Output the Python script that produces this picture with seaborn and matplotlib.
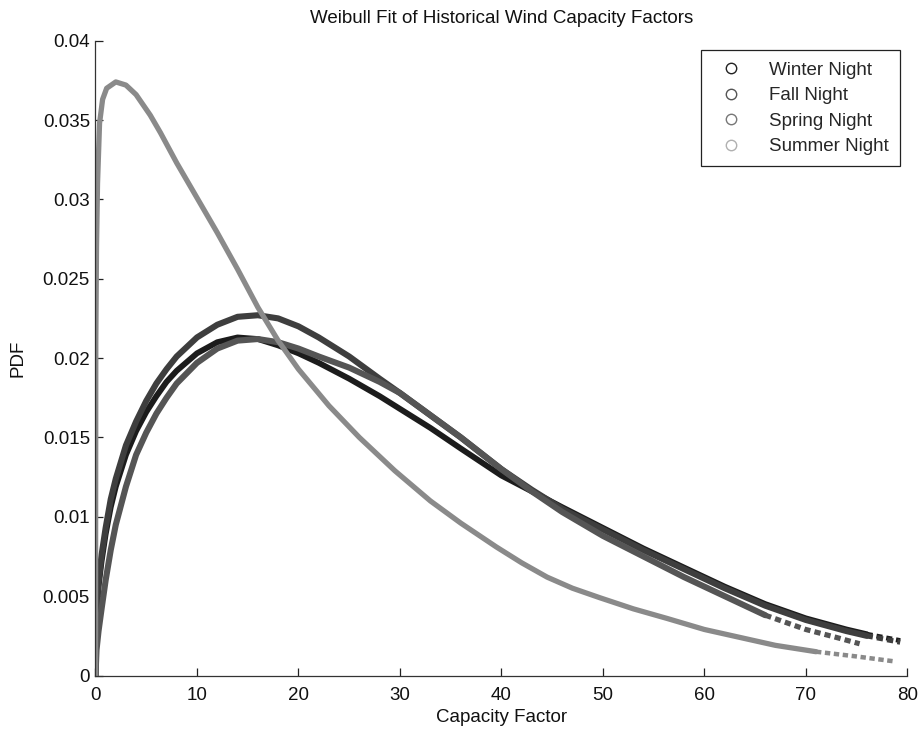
import matplotlib
matplotlib.use("Agg")
import numpy as np
import pandas as pd
import seaborn as sns
import matplotlib.pyplot as plt
from matplotlib.lines import Line2D
from matplotlib.ticker import FuncFormatter

# ---------------- data ----------------
series_names = ["Winter Night", "Fall Night", "Spring Night", "Summer Night"]

winter_x = [0, 0.1, 0.3, 0.6, 1, 1.5, 2, 3, 4, 5, 6, 7, 8, 10, 12, 14, 16, 18, 20, 22,
            25, 28, 30, 33, 36, 40, 43, 46, 50, 54, 58, 62, 66, 70, 74, 76, 79.3]
winter_y = [0, 0.0039, 0.0056, 0.0072, 0.0089, 0.0106, 0.0119, 0.0139, 0.0154, 0.0166,
            0.0176, 0.0185, 0.0192, 0.0203, 0.0210, 0.0213, 0.0212, 0.0208, 0.0203, 0.0197,
            0.0187, 0.0176, 0.0168, 0.0156, 0.0143, 0.0126, 0.0116, 0.0106, 0.0093, 0.0080,
            0.0068, 0.0056, 0.0045, 0.0036, 0.0029, 0.0026, 0.0022]

fall_x = [0, 0.1, 0.3, 0.6, 1, 1.5, 2, 3, 4, 5, 6, 7, 8, 10, 12, 14, 16, 18, 20, 22,
          25, 28, 30, 33, 36, 40, 43, 46, 50, 54, 58, 62, 66, 70, 74, 76, 79.3]
fall_y = [0, 0.0041, 0.0059, 0.0076, 0.0093, 0.0111, 0.0124, 0.0145, 0.0160, 0.0173,
          0.0184, 0.0193, 0.0201, 0.0213, 0.0221, 0.0226, 0.0227, 0.0225, 0.0220, 0.0213,
          0.0201, 0.0187, 0.0178, 0.0164, 0.0150, 0.0130, 0.0117, 0.0105, 0.0092, 0.0079,
          0.0067, 0.0055, 0.0044, 0.0035, 0.0028, 0.0025, 0.0021]

spring_x = [0, 0.1, 0.3, 0.6, 1, 1.5, 2, 3, 4, 5, 6, 7, 8, 10, 12, 14, 16, 18, 20, 22,
            25, 28, 30, 33, 36, 40, 43, 46, 50, 54, 58, 62, 66, 70, 73, 75.3]
spring_y = [0, 0.0016, 0.0028, 0.0042, 0.0060, 0.0079, 0.0095, 0.0119, 0.0139, 0.0153,
            0.0165, 0.0175, 0.0184, 0.0197, 0.0206, 0.0211, 0.0212, 0.0210, 0.0206, 0.0201,
            0.0194, 0.0185, 0.0178, 0.0164, 0.0150, 0.0130, 0.0116, 0.0103, 0.0088, 0.0075,
            0.0062, 0.0050, 0.0038, 0.0029, 0.0024, 0.0020]

summer_x = [0, 0.03, 0.1, 0.2, 0.4, 0.7, 1.1, 2, 3, 4, 5.4, 6.4, 8, 10, 12, 14, 16, 18,
            20, 23, 26, 29.5, 33, 36, 39.5, 42, 44.5, 47, 49.7, 53, 56.3, 60, 62.8, 67,
            71, 75, 78.6]
summer_y = [0, 0.021, 0.027, 0.031, 0.0348, 0.0363, 0.0370, 0.0374, 0.0372, 0.0366,
            0.0353, 0.0342, 0.0323, 0.0301, 0.0279, 0.0256, 0.0232, 0.0211, 0.0193, 0.0170,
            0.0150, 0.0129, 0.0110, 0.0096, 0.0081, 0.0071, 0.0062, 0.0055, 0.0049, 0.0042,
            0.0036, 0.0029, 0.0025, 0.0019, 0.0015, 0.0012, 0.0009]

x_ticks = [0, 10, 20, 30, 40, 50, 60, 70, 80]
y_ticks = [0, 0.005, 0.01, 0.015, 0.02, 0.025, 0.03, 0.035, 0.04]

# ---------------- style ----------------
sns.set_theme(style="white")
plt.rcParams['font.family'] = ['Liberation Sans', 'DejaVu Sans']

line_colors = {"Winter Night": "#1c1c1c", "Fall Night": "#3e3e3e",
               "Spring Night": "#555555", "Summer Night": "#8a8a8a"}
legend_colors = {"Winter Night": "#222222", "Fall Night": "#555555",
                 "Spring Night": "#777777", "Summer Night": "#b0b0b0"}
line_widths = {"Winter Night": 4.2, "Fall Night": 4.4, "Spring Night": 4.4, "Summer Night": 3.8}
tail_start = {"Winter Night": 76, "Fall Night": 76, "Spring Night": 66, "Summer Night": 71}

data = {
    "Winter Night": (winter_x, winter_y),
    "Fall Night": (fall_x, fall_y),
    "Spring Night": (spring_x, spring_y),
    "Summer Night": (summer_x, summer_y),
}

fig = plt.figure(figsize=(9.2, 7.34), dpi=100)
ax = fig.add_axes([0.1038, 0.0797, 0.8824, 0.8649])

for name in series_names:
    xs, ys = data[name]
    df = pd.DataFrame({"x": xs, "y": ys})
    solid = df[df["x"] <= tail_start[name]]
    tail = df[df["x"] >= tail_start[name]]
    sns.lineplot(data=solid, x="x", y="y", ax=ax, color=line_colors[name],
                 linewidth=line_widths[name], estimator=None, sort=False,
                 solid_capstyle="round", solid_joinstyle="round")
    sns.lineplot(data=tail, x="x", y="y", ax=ax, color=line_colors[name],
                 linewidth=line_widths[name] * 0.85, estimator=None, sort=False,
                 linestyle=(0, (1.2, 0.8)))

ax.set_xlim(0, 80)
ax.set_ylim(0, 0.04)
ax.set_xticks(x_ticks)
ax.set_yticks(y_ticks)
ax.yaxis.set_major_formatter(FuncFormatter(lambda v, p: "%g" % v))
ax.xaxis.set_major_formatter(FuncFormatter(lambda v, p: "%g" % v))

sns.despine(ax=ax)
for s in ["left", "bottom"]:
    ax.spines[s].set_color("#333333")
    ax.spines[s].set_linewidth(0.9)

ax.tick_params(axis="both", direction="in", length=6, width=0.9, colors="#222222",
               labelsize=13.5, bottom=True, left=True, labelcolor="#111111")
ax.tick_params(axis="y", pad=4)
ax.tick_params(axis="x", pad=8)

ax.set_xlabel("Capacity Factor", fontsize=13.5, color="#111111", labelpad=4)
ax.set_ylabel("PDF", fontsize=13.5, color="#111111", labelpad=12)
ax.set_title("Weibull Fit of Historical Wind Capacity Factors", fontsize=13.5,
             color="#111111", pad=13)

handles = [Line2D([], [], marker="o", linestyle="none", markerfacecolor="none",
                  markeredgecolor=legend_colors[n], markersize=7.5, markeredgewidth=1.0)
           for n in series_names]
leg = ax.legend(handles, series_names, loc="upper right", bbox_to_anchor=(0.991, 0.985),
                borderaxespad=0, fontsize=13.5, frameon=True, fancybox=False,
                handlelength=2.0, handletextpad=1.04, labelspacing=0.45,
                borderpad=0.6, framealpha=1)
leg.get_frame().set_edgecolor("#222222")
leg.get_frame().set_linewidth(0.9)

fig.savefig("out.png", dpi=100, facecolor="white")
